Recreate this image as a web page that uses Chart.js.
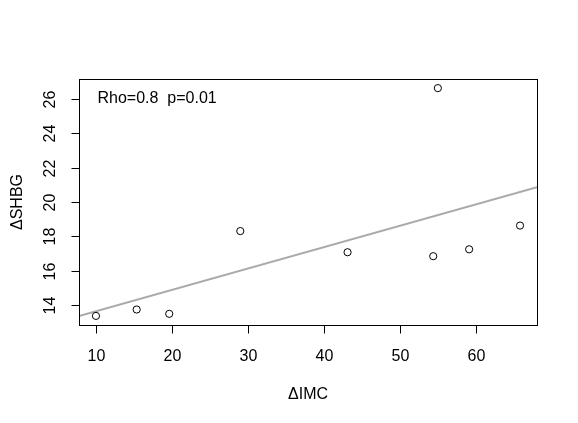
<!DOCTYPE html>
<html>
<head>
<meta charset="utf-8">
<script src="https://cdn.jsdelivr.net/npm/chart.js@4"></script>
<style>
  html, body { margin: 0; padding: 0; background: #ffffff; }
  #wrap { width: 578px; height: 423px; position: relative; }
</style>
</head>
<body>
<div id="wrap"><canvas id="c" width="578" height="423"></canvas></div>
<script>
// ---- data ----
const imcValues  = [10.0, 15.35, 19.63, 28.97, 43.07, 54.33, 54.94, 59.05, 65.74];
const shbgValues = [13.38, 13.75, 13.50, 18.31, 17.08, 16.85, 26.62, 17.25, 18.63];
const fitIntercept = 12.41;
const fitSlope = 0.1244;
const xTickValues = [10, 20, 30, 40, 50, 60];
const yTickValues = [14, 16, 18, 20, 22, 24, 26];
const xAxisTitle = 'ΔIMC';
const yAxisTitle = 'ΔSHBG';
const annotationText = 'Rho=0.8  p=0.01';

// R-style axis ranges (4% extension)
function rRange(vals) {
  const lo = Math.min(...vals), hi = Math.max(...vals);
  const ext = (hi - lo) * 0.04;
  return [lo - ext, hi + ext];
}
const [xMin, xMax] = rRange(imcValues);
const [yMin, yMax] = rRange(shbgValues);

const points = imcValues.map((x, i) => ({ x: x, y: shbgValues[i] }));
const fitLine = [xMin, xMax].map(x => ({ x: x, y: fitIntercept + fitSlope * x }));

const FONT = '16px "Liberation Sans", Arial, Helvetica, sans-serif';

const rAxesPlugin = {
  id: 'rAxes',
  afterDraw(chart) {
    const ctx = chart.ctx;
    const a = chart.chartArea;
    const xs = chart.scales.x, ys = chart.scales.y;
    ctx.save();
    ctx.strokeStyle = '#000';
    ctx.lineWidth = 1;
    // box
    const L = Math.round(a.left) + 0.5, T = Math.round(a.top) + 0.5;
    const R = Math.round(a.right) + 0.5, B = Math.round(a.bottom) + 0.5;
    ctx.strokeRect(L, T, R - L, B - T);
    ctx.fillStyle = '#000';
    ctx.font = FONT;
    // x ticks
    ctx.textAlign = 'center';
    ctx.textBaseline = 'alphabetic';
    xTickValues.forEach(v => {
      const px = Math.round(xs.getPixelForValue(v)) + 0.5;
      ctx.beginPath();
      ctx.moveTo(px, B);
      ctx.lineTo(px, B + 8);
      ctx.stroke();
      ctx.fillText(String(v), px, 361);
    });
    // y ticks
    yTickValues.forEach(v => {
      const py = Math.round(ys.getPixelForValue(v)) + 0.5;
      ctx.beginPath();
      ctx.moveTo(L, py);
      ctx.lineTo(L - 8, py);
      ctx.stroke();
      ctx.save();
      ctx.translate(55, py);
      ctx.rotate(-Math.PI / 2);
      ctx.textAlign = 'center';
      ctx.fillText(String(v), 0, 0);
      ctx.restore();
    });
    // axis titles
    ctx.textAlign = 'center';
    ctx.fillText(xAxisTitle, (a.left + a.right) / 2, 398.5);
    ctx.save();
    ctx.translate(22, (a.top + a.bottom) / 2);
    ctx.rotate(-Math.PI / 2);
    ctx.fillText(yAxisTitle, 0, 0);
    ctx.restore();
    // annotation
    ctx.textAlign = 'left';
    ctx.fillText(annotationText, 97.5, 103);
    ctx.restore();
  }
};

new Chart(document.getElementById('c'), {
  type: 'scatter',
  data: {
    datasets: [
      {
        type: 'line',
        data: fitLine,
        borderColor: '#aaaaaa',
        borderWidth: 2,
        pointRadius: 0,
        fill: false,
        tension: 0,
        order: 2
      },
      {
        type: 'scatter',
        data: points,
        pointStyle: 'circle',
        pointRadius: 3.6,
        pointHoverRadius: 3.6,
        borderColor: '#000000',
        backgroundColor: 'rgba(0,0,0,0)',
        borderWidth: 1,
        order: 1
      }
    ]
  },
  options: {
    responsive: false,
    animation: false,
    devicePixelRatio: 1,
    layout: { padding: { left: 79, top: 79, right: 41, bottom: 98 } },
    plugins: { legend: { display: false }, tooltip: { enabled: false } },
    scales: {
      x: { type: 'linear', min: xMin, max: xMax, display: false },
      y: { type: 'linear', min: yMin, max: yMax, display: false }
    }
  },
  plugins: [rAxesPlugin]
});
</script>
</body>
</html>
